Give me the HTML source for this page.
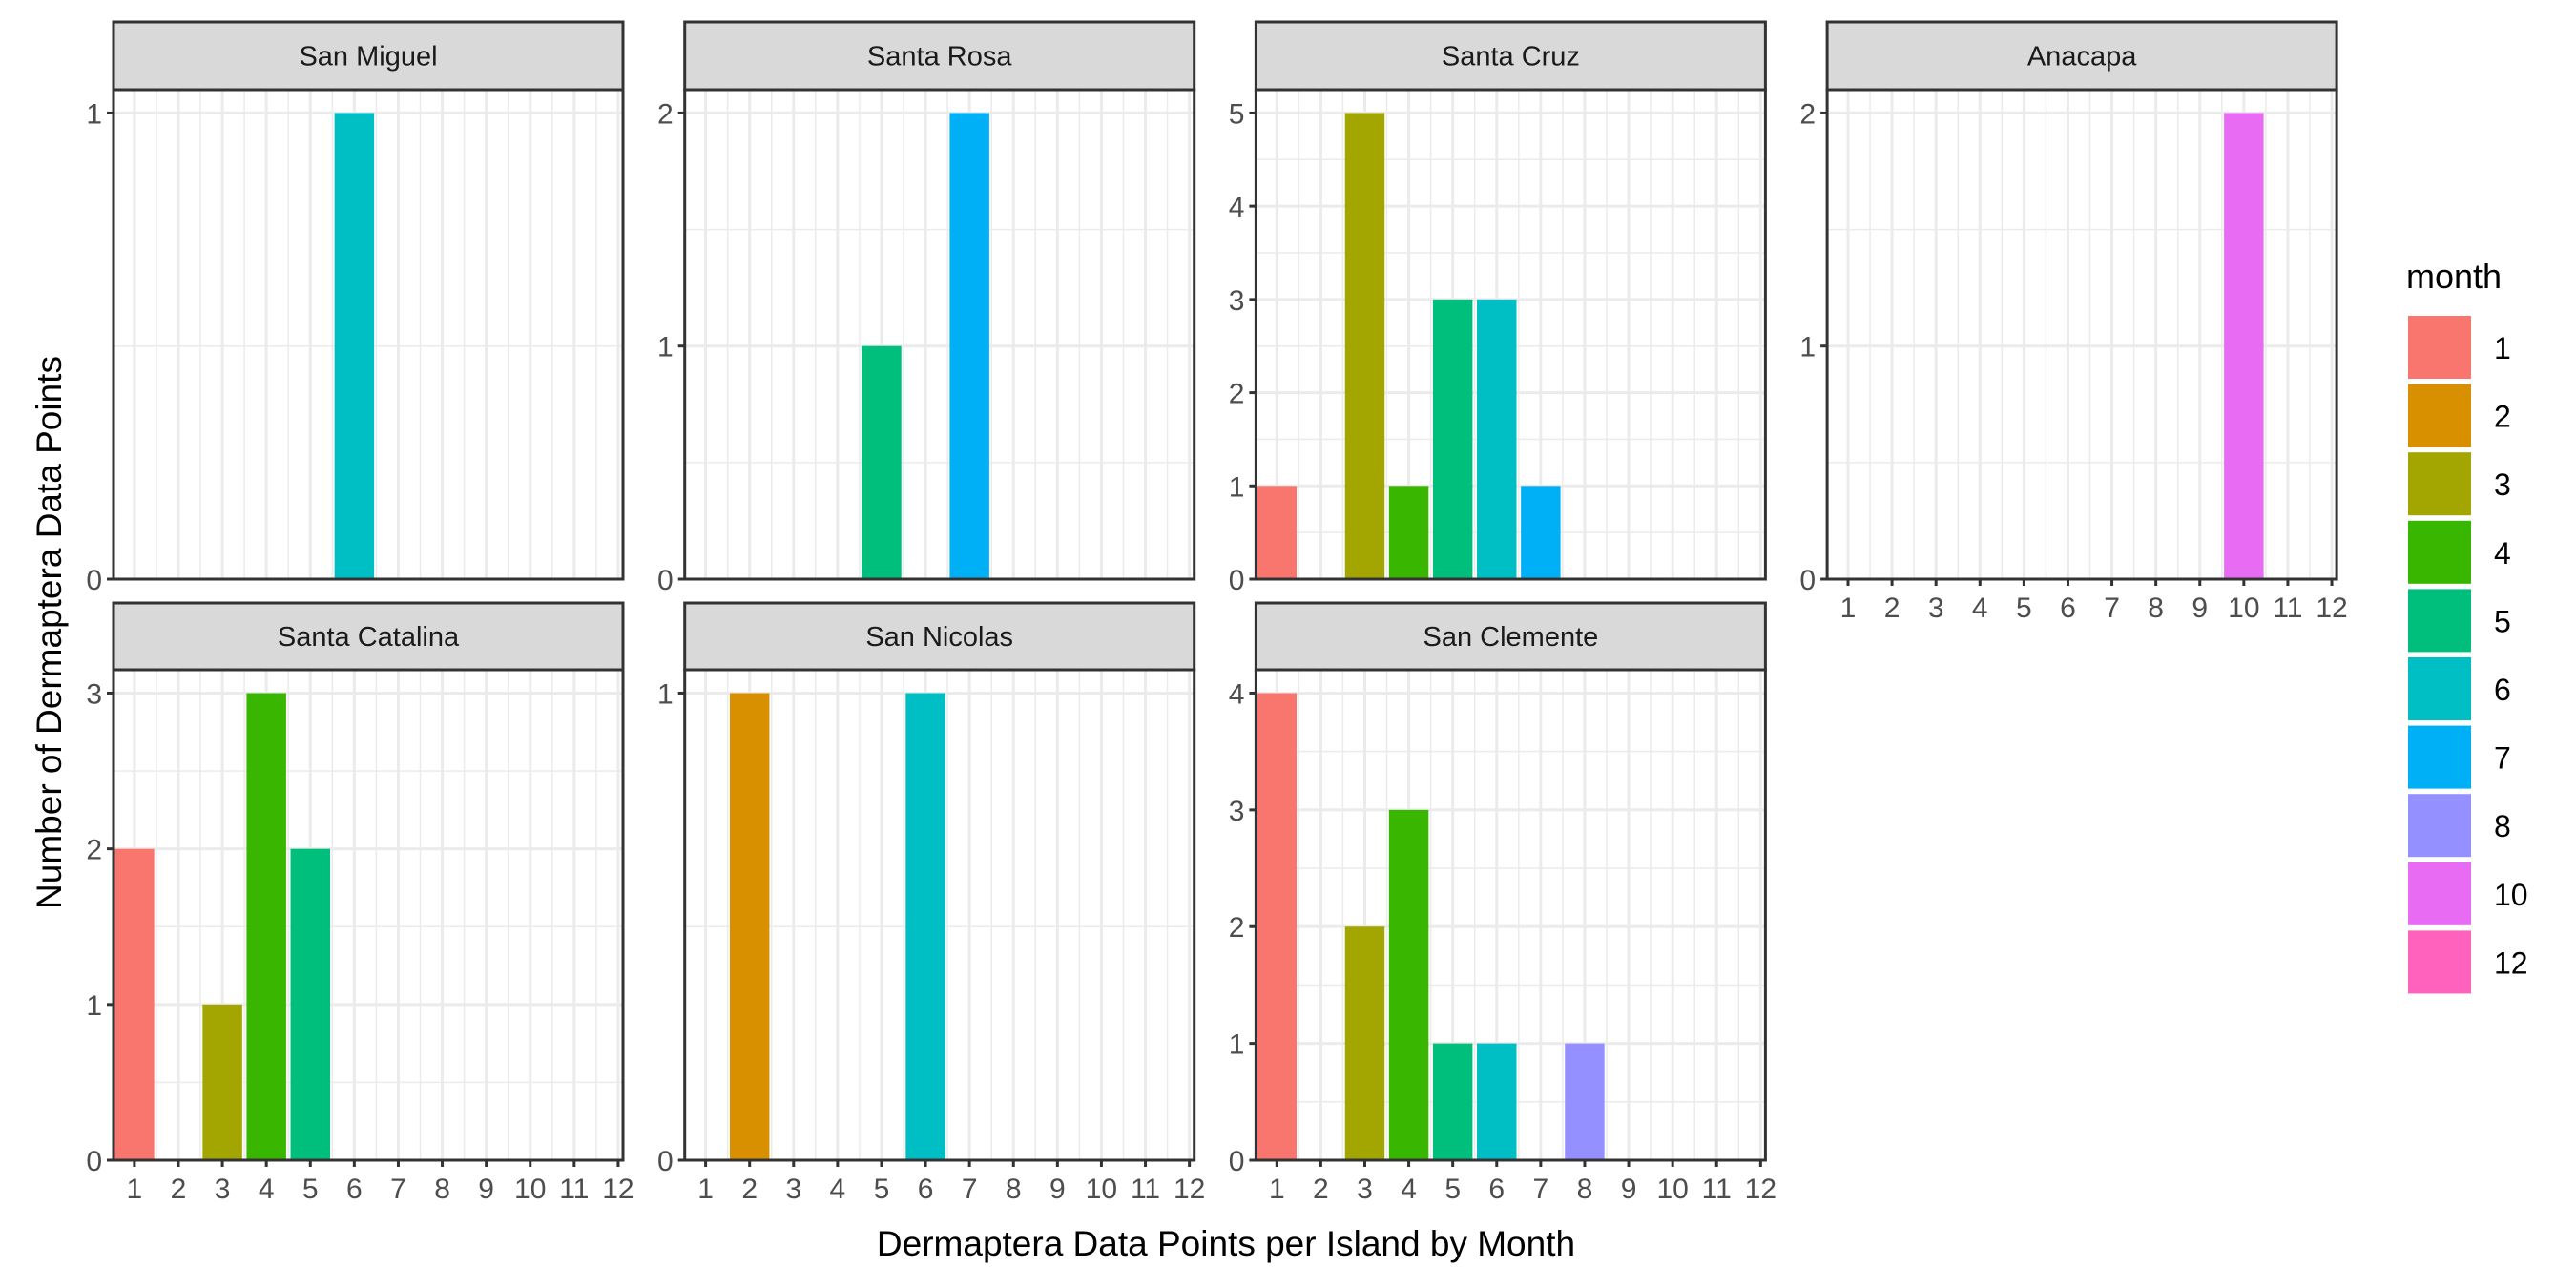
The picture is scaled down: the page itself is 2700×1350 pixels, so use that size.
<!DOCTYPE html>
<html><head><meta charset="utf-8"><style>
html,body{margin:0;padding:0;background:#fff;}
svg{display:block;font-family:"Liberation Sans",Arial,sans-serif;}
</style></head><body>
<svg id="chart" width="2700" height="1350" viewBox="0 0 2700 1350" xmlns="http://www.w3.org/2000/svg">
<text x="1285" y="1316" font-size="37" text-anchor="middle" fill="#000">Dermaptera Data Points per Island by Month</text>
<text transform="translate(64,663) rotate(-90)" font-size="37" text-anchor="middle" fill="#000">Number of Dermaptera Data Points</text>
<text x="2522" y="302" font-size="36" fill="#000">month</text>
</svg>
<script>
const islands = ["San Miguel","Santa Rosa","Santa Cruz","Anacapa","Santa Catalina","San Nicolas","San Clemente"];
const yMax = [1,2,5,2,3,1,4];
const sanMiguelMonths = [6], sanMiguelCounts = [1];
const santaRosaMonths = [5,7], santaRosaCounts = [1,2];
const santaCruzMonths = [1,3,4,5,6,7], santaCruzCounts = [1,5,1,3,3,1];
const anacapaMonths = [10], anacapaCounts = [2];
const santaCatalinaMonths = [1,3,4,5], santaCatalinaCounts = [2,1,3,2];
const sanNicolasMonths = [2,6], sanNicolasCounts = [1,1];
const sanClementeMonths = [1,3,4,5,6,8], sanClementeCounts = [4,2,3,1,1,1];
const xTicks = [1,2,3,4,5,6,7,8,9,10,11,12];
const legendMonths = [1,2,3,4,5,6,7,8,10,12];
const legendColors = ["#F8766D","#D89000","#A3A500","#39B600","#00BF7D","#00BFC4","#00B0F6","#9590FF","#E76BF3","#FF62BC"];

const monthsArr = [sanMiguelMonths,santaRosaMonths,santaCruzMonths,anacapaMonths,santaCatalinaMonths,sanNicolasMonths,sanClementeMonths];
const countsArr = [sanMiguelCounts,santaRosaCounts,santaCruzCounts,anacapaCounts,santaCatalinaCounts,sanNicolasCounts,sanClementeCounts];

const NS="http://www.w3.org/2000/svg";
const svg=document.getElementById('chart');
function mk(tag,attrs,parent){const e=document.createElementNS(NS,tag);for(const k in attrs)e.setAttribute(k,attrs[k]);(parent||svg).appendChild(e);return e;}
function colorOf(m){const i=legendMonths.indexOf(m);return legendColors[i];}

const panelW=534, colStep=598.7, left0=119;
const rows=[{st:23,pt:94,pb:607},{st:632,pt:702,pb:1216}];
const X0=0.525, X1=12.11;

islands.forEach((name,i)=>{
  const col=i<4?i:i-4, row=i<4?0:1;
  const L=left0+col*colStep, R=L+panelW;
  const r=rows[row];
  const xs=v=>L+(v-X0)/(X1-X0)*panelW;
  const top=yMax[i]*1.05;
  const ys=v=>r.pb-(v/top)*(r.pb-r.pt);
  const g=mk('g',{});
  
  
  mk('rect',{x:L,y:r.pt,width:panelW,height:r.pb-r.pt,fill:'#fff'},g);
  for(let v=0.5;v<=12.5;v+=1){if(v<X0||v>X1)continue;mk('line',{x1:xs(v),x2:xs(v),y1:r.pt,y2:r.pb,stroke:'#ebebeb','stroke-width':1.5},g);}
  for(let v=0.5;v<top;v+=1){mk('line',{x1:L,x2:R,y1:ys(v),y2:ys(v),stroke:'#ebebeb','stroke-width':1.5},g);}
  xTicks.forEach(v=>mk('line',{x1:xs(v),x2:xs(v),y1:r.pt,y2:r.pb,stroke:'#ebebeb','stroke-width':3},g));
  for(let v=0;v<=yMax[i];v++){mk('line',{x1:L,x2:R,y1:ys(v),y2:ys(v),stroke:'#ebebeb','stroke-width':3},g);}
  monthsArr[i].forEach((m,j)=>{
    const b=mk('rect',{x:xs(m-0.45),y:ys(countsArr[i][j]),width:xs(m+0.45)-xs(m-0.45),height:ys(0)-ys(countsArr[i][j]),fill:colorOf(m)},g);
    
    
  });
  mk('rect',{x:L,y:r.pt,width:panelW,height:r.pb-r.pt,fill:'none',stroke:'#333','stroke-width':3},g);
  const s=mk('rect',{x:L,y:r.st,width:panelW,height:r.pt-r.st,fill:'#d9d9d9',stroke:'#333','stroke-width':3},g);
  
  
  const st=mk('text',{x:L+panelW/2,y:(r.st+r.pt)/2+10,'font-size':29,'text-anchor':'middle',fill:'#1a1a1a'},g);
  st.textContent=name;
  
  
  for(let v=0;v<=yMax[i];v++){
    mk('line',{x1:L-7,x2:L,y1:ys(v),y2:ys(v),stroke:'#333','stroke-width':3},g);
    const t=mk('text',{x:L-12,y:ys(v)+11,'font-size':30,'text-anchor':'end',fill:'#4d4d4d'},g);
    t.textContent=v;
    
    
  }
  if(row===1||col===3){
    xTicks.forEach(v=>{
      mk('line',{x1:xs(v),x2:xs(v),y1:r.pb,y2:r.pb+7,stroke:'#333','stroke-width':3},g);
      const t=mk('text',{x:xs(v),y:r.pb+40,'font-size':30,'text-anchor':'middle',fill:'#4d4d4d'},g);
      t.textContent=v;
      
      
    });
  }
});
legendMonths.forEach((m,i)=>{
  const y=331+i*71.6;
  const k=mk('rect',{x:2524,y:y,width:66,height:66,fill:legendColors[i]});
  
  
  const t=mk('text',{x:2614,y:y+45,'font-size':32,fill:'#000'});
  t.textContent=m;
  
  
});
</script>
</body></html>
